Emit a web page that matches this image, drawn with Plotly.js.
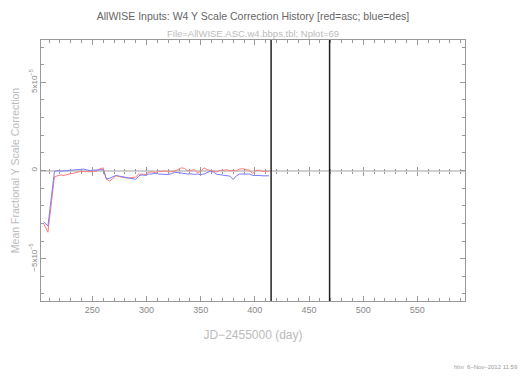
<!DOCTYPE html>
<html>
<head>
<meta charset="utf-8">
<script src="https://cdn.plot.ly/plotly-3.0.1.min.js"></script>
<style>html,body{margin:0;padding:0;background:#fff;}#chart{width:524px;height:377px;}</style>
</head>
<body>
<div id="chart"></div>
<script>
// JD-2455000 (day)
const jd = [205,209,215,218,221,224,227,230,233,236,239,242,245,248,251,254,257,260,263,266,269,272,275,278,281,284,287,290,293,296,299,302,305,308,311,314,317,320,323,326,329,332,335,338,341,344,347,350,353,356,359,362,365,368,371,374,377,380,383,386,389,392,395,398,401,404,407,410,413];
// Mean fractional Y scale correction, in units of 1e-5
const ascRed = [-3.0,-3.5,-0.35,-0.3,-0.25,-0.28,-0.22,-0.18,-0.15,-0.1,-0.05,-0.06,-0.08,-0.07,-0.05,-0.03,0.1,0.15,-0.5,-0.6,-0.45,-0.3,-0.35,-0.4,-0.42,-0.43,-0.4,-0.37,-0.2,-0.2,-0.23,-0.1,-0.08,-0.12,-0.06,-0.05,-0.02,-0.08,-0.04,-0.04,0.05,0.15,0.12,-0.02,0.0,0.05,-0.12,-0.05,0.15,0.05,0.0,-0.02,-0.08,0.02,0.0,0.05,-0.02,0.0,0.0,0.08,0.1,0.05,0.02,-0.17,0.0,0.02,-0.05,-0.04,-0.04];
const desBlue = [-2.9,-3.15,-0.05,0.0,-0.04,-0.02,0.0,0.0,0.02,0.05,0.1,0.08,0.03,0.0,0.02,0.03,0.05,0.05,-0.47,-0.45,-0.35,-0.28,-0.32,-0.35,-0.4,-0.43,-0.48,-0.5,-0.3,-0.25,-0.28,-0.2,-0.2,-0.15,-0.2,-0.22,-0.2,-0.23,-0.18,-0.1,-0.12,-0.15,-0.16,-0.2,-0.19,-0.22,-0.2,-0.23,-0.2,-0.1,-0.04,-0.1,-0.22,-0.24,-0.28,-0.28,-0.32,-0.51,-0.3,-0.2,-0.2,-0.18,-0.2,-0.28,-0.26,-0.28,-0.3,-0.32,-0.3];
const markerLines = [415, 469];
const xTicks = [250, 300, 350, 400, 450, 500, 550];
const yTickVals = [-5, 0, 5];
const yTickText = ['\u22125x10<sup>\u22125</sup>', '0', '5x10<sup>\u22125</sup>'];

const FONT = 'Liberation Sans, Arial, sans-serif';

const traces = [
  {x: jd, y: ascRed, type: 'scatter', mode: 'lines', line: {color: '#ff7a7a', width: 1}, hoverinfo: 'skip', showlegend: false},
  {x: jd, y: desBlue, type: 'scatter', mode: 'lines', line: {color: '#7a7aff', width: 1}, hoverinfo: 'skip', showlegend: false},
  {x: [], y: [], xaxis: 'x2', type: 'scatter', showlegend: false},
  {x: [], y: [], xaxis: 'x3', type: 'scatter', showlegend: false}
];

const zeroAxis = (dir) => ({
  overlaying: 'x', matches: 'x', anchor: 'free', position: 0.5, side: 'bottom',
  showline: false, showgrid: false, zeroline: false, showticklabels: false,
  tickmode: 'array', tickvals: xTicks, ticks: dir, ticklen: 4, tickcolor: '#999', tickwidth: 1,
  minor: {dtick: 10, tick0: 200, ticks: dir, ticklen: 2, tickcolor: '#999', showgrid: false}
});

const layout = {
  width: 524, height: 377,
  margin: {l: 41, r: 59, t: 40, b: 76},
  paper_bgcolor: '#fff', plot_bgcolor: '#fff',
  font: {family: FONT, color: '#888'},
  title: {text: 'AllWISE Inputs: W4 Y Scale Correction History [red=asc; blue=des]',
          font: {family: FONT, size: 10.5, color: '#666'},
          x: 0.5, xref: 'paper', xanchor: 'center', y: 1 - 16/377, yref: 'container', yanchor: 'middle'},
  xaxis: {
    range: [202.6, 594], tickmode: 'array', tickvals: xTicks,
    ticks: 'inside', ticklen: 5, tickcolor: '#999', mirror: 'ticks',
    showline: true, linecolor: '#999', linewidth: 1, showgrid: false, zeroline: false,
    minor: {dtick: 10, tick0: 200, ticks: 'inside', ticklen: 3, tickcolor: '#999', showgrid: false},
    tickfont: {family: FONT, size: 9, color: '#888'},
    title: {text: 'JD\u22122455000 (day)', font: {family: FONT, size: 12, color: '#bbb'}, standoff: 16}
  },
  xaxis2: zeroAxis('inside'),
  xaxis3: zeroAxis('outside'),
  yaxis: {
    range: [-7.4, 7.4], tickmode: 'array', tickvals: yTickVals, ticktext: yTickText, tickangle: -90,
    ticks: 'inside', ticklen: 5, tickcolor: '#999', mirror: 'ticks',
    showline: true, linecolor: '#999', linewidth: 1, showgrid: false,
    zeroline: true, zerolinecolor: '#d0d0d0', zerolinewidth: 2,
    minor: {dtick: 1, ticks: 'inside', ticklen: 3, tickcolor: '#999', showgrid: false},
    tickfont: {family: FONT, size: 8, color: '#888'},
    title: {text: 'Mean Fractional Y Scale Correction', font: {family: FONT, size: 10.5, color: '#bbb'}, standoff: 6}
  },
  shapes: markerLines.map(v => ({type: 'line', xref: 'x', yref: 'paper', x0: v, x1: v, y0: 0, y1: 1,
                                 line: {color: '#222', width: 1.5}})),
  annotations: [
    {text: 'File=AllWISE.ASC.w4.bbps.tbl; Nplot=69', xref: 'paper', yref: 'paper', x: 0.5, y: 1 + 7/261,
     xanchor: 'center', yanchor: 'middle', showarrow: false, font: {family: FONT, size: 9.5, color: '#bbb'}},
    {text: 'hlm  6\u2013Nov\u20132012 11:59', xref: 'paper', yref: 'paper', x: (520-41)/424, y: -(367-301)/261,
     xanchor: 'right', yanchor: 'middle', showarrow: false, font: {family: FONT, size: 6, color: '#999'}}
  ]
};

Plotly.newPlot('chart', traces, layout, {displayModeBar: false, staticPlot: true});
</script>
</body>
</html>
